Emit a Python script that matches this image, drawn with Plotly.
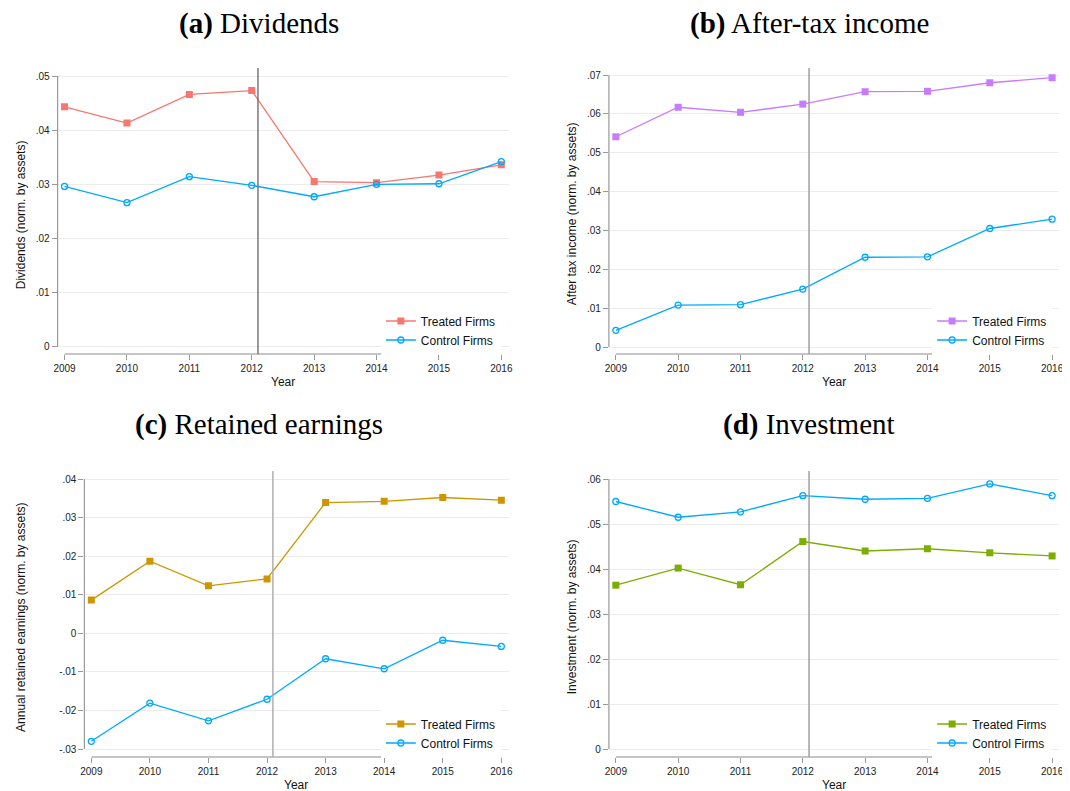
import plotly.graph_objects as go

# page has an 8px body margin; lay out in reference pixels and shift
OFF = 8
W, H = 1070 - OFF, 791 - OFF

years = [2009, 2010, 2011, 2012, 2013, 2014, 2015, 2016]
year_ticks = ["2009", "2010", "2011", "2012", "2013", "2014", "2015", "2016"]
event_year = 2012.1

div_treated = [0.0443, 0.0413, 0.0466, 0.0473, 0.0305, 0.0303, 0.0317, 0.0336]
div_control = [0.0296, 0.0266, 0.0314, 0.0298, 0.0277, 0.0300, 0.0301, 0.0342]

inc_treated = [0.0541, 0.0617, 0.0604, 0.0625, 0.0657, 0.0658, 0.0680, 0.0693]
inc_control = [0.0043, 0.0108, 0.0109, 0.0149, 0.0231, 0.0232, 0.0305, 0.0329]

ret_treated = [0.0086, 0.0187, 0.0123, 0.0141, 0.0339, 0.0342, 0.0352, 0.0345]
ret_control = [-0.0280, -0.0181, -0.0227, -0.0171, -0.0066, -0.0092, -0.0018, -0.0034]

inv_treated = [0.0364, 0.0402, 0.0365, 0.0461, 0.0440, 0.0445, 0.0436, 0.0429]
inv_control = [0.0550, 0.0515, 0.0527, 0.0563, 0.0555, 0.0557, 0.0589, 0.0563]

div_yticks = [0, 0.01, 0.02, 0.03, 0.04, 0.05]
div_ylabels = ["0", ".01", ".02", ".03", ".04", ".05"]
inc_yticks = [0, 0.01, 0.02, 0.03, 0.04, 0.05, 0.06, 0.07]
inc_ylabels = ["0", ".01", ".02", ".03", ".04", ".05", ".06", ".07"]
ret_yticks = [-0.03, -0.02, -0.01, 0, 0.01, 0.02, 0.03, 0.04]
ret_ylabels = ["-.03", "-.02", "-.01", "0", ".01", ".02", ".03", ".04"]
inv_yticks = [0, 0.01, 0.02, 0.03, 0.04, 0.05, 0.06]
inv_ylabels = ["0", ".01", ".02", ".03", ".04", ".05", ".06"]

panels = [
    dict(title="<b>(a)</b> Dividends", ytitle="Dividends (norm. by assets)",
         treated=div_treated, control=div_control, tcolor="#F8766D",
         yticks=div_yticks, ylabels=div_ylabels,
         px_x=(54, 509), px_y=(68, 354), xa=(61, 501.5), ya=(346.7, 76),
         title_xy=(257, 23), ytitle_x=17, legend_xy=(380, 330.5), vcol="#707070"),
    dict(title="<b>(b)</b> After-tax income", ytitle="After tax income (norm. by assets)",
         treated=inc_treated, control=inc_control, tcolor="#C77CFF",
         yticks=inc_yticks, ylabels=inc_ylabels,
         px_x=(610, 1064), px_y=(68, 354), xa=(617, 1057), ya=(347, 75),
         title_xy=(812, 23), ytitle_x=573, legend_xy=(936, 330.5), vcol="#999999"),
    dict(title="<b>(c)</b> Retained earnings", ytitle="Annual retained earnings (norm. by assets)",
         treated=ret_treated, control=ret_control, tcolor="#CD9600",
         yticks=ret_yticks, ylabels=ret_ylabels,
         px_x=(81, 509), px_y=(471, 757), xa=(88, 501.5), ya=(749, 479),
         title_xy=(257, 424), ytitle_x=17, legend_xy=(380, 733.5), vcol="#aaaaaa"),
    dict(title="<b>(d)</b> Investment", ytitle="Investment (norm. by assets)",
         treated=inv_treated, control=inv_control, tcolor="#7CAE00",
         yticks=inv_yticks, ylabels=inv_ylabels,
         px_x=(610, 1064), px_y=(471, 757), xa=(617, 1057), ya=(749, 479),
         title_xy=(812, 424), ytitle_x=573, legend_xy=(936, 733.5), vcol="#999999"),
]

CONTROL_COLOR = "#00A9FF"
TICK_FONT = dict(family="Liberation Sans, Arial", size=10, color="#222222")
LABEL_FONT = dict(family="Liberation Sans, Arial", size=12, color="#111111")


def px(xv):
    return (xv - OFF) / W


def py(yv):
    return 1 - (yv - OFF) / H


fig = go.Figure()
annotations = []
shapes = []

for i, p in enumerate(panels):
    n = "" if i == 0 else str(i + 1)
    xname, yname = "x" + n, "y" + n
    lname = "legend" + n
    x0px, x1px = p["px_x"]
    a0, a1 = p["xa"]
    ppx = (a1 - a0) / (years[-1] - years[0])
    xr = [years[0] - (a0 - x0px) / ppx, years[-1] + (x1px - a1) / ppx]
    ytop, ybot = p["px_y"]
    b0, b1 = p["ya"]
    ymin_t, ymax_t = p["yticks"][0], p["yticks"][-1]
    ppy = (b0 - b1) / (ymax_t - ymin_t)
    yr = [ymin_t - (ybot - b0) / ppy, ymax_t + (b1 - ytop) / ppy]

    fig.add_trace(go.Scatter(
        x=years, y=p["treated"], name="Treated Firms", mode="lines+markers",
        line=dict(color=p["tcolor"], width=1.3),
        marker=dict(symbol="square", size=7, color=p["tcolor"]),
        xaxis=xname, yaxis=yname, legend=lname))
    fig.add_trace(go.Scatter(
        x=years, y=p["control"], name="Control Firms", mode="lines+markers",
        line=dict(color=CONTROL_COLOR, width=1.3),
        marker=dict(symbol="circle-open", size=6, color=CONTROL_COLOR, line=dict(width=1.3)),
        xaxis=xname, yaxis=yname, legend=lname))

    fig.update_layout(**{
        "xaxis" + n: dict(domain=[px(x0px), px(x1px)], range=xr, anchor=yname,
                          tickvals=years, ticktext=year_ticks, showgrid=False,
                          zeroline=False, showline=False, ticks="outside", ticklen=5,
                          tickcolor="#999999", tickwidth=1, tickfont=TICK_FONT),
        "yaxis" + n: dict(domain=[py(ybot), py(ytop)], range=yr, anchor=xname,
                          tickvals=p["yticks"], ticktext=p["ylabels"], showgrid=True,
                          gridcolor="#ececec", gridwidth=1, zeroline=False, showline=False,
                          ticks="outside", ticklen=5, tickcolor="#999999", tickwidth=1,
                          tickfont=TICK_FONT),
        lname: dict(x=px(p["legend_xy"][0]), y=py(p["legend_xy"][1]),
                    xanchor="left", yanchor="middle", bgcolor="white",
                    font=dict(family="Liberation Sans, Arial", size=12, color="#111111"),
                    borderwidth=0),
    })

    shapes.append(dict(type="line", xref=xname + " domain", x0=0, x1=0, yref=yname,
                       y0=ymin_t, y1=ymax_t, line=dict(color="#999999", width=1.2)))
    shapes.append(dict(type="line", xref=xname, x0=years[0], x1=years[-1],
                       yref=yname + " domain", y0=0, y1=0,
                       line=dict(color="#8c8c8c", width=1.2)))
    shapes.append(dict(type="line", xref=xname, x0=event_year, x1=event_year,
                       yref=yname + " domain", y0=0, y1=1,
                       line=dict(color=p["vcol"], width=1.4)))

    annotations.append(dict(text=p["title"], xref="paper", yref="paper",
                            x=px(p["title_xy"][0]), y=py(p["title_xy"][1]),
                            xanchor="center", yanchor="middle", showarrow=False,
                            font=dict(family="Liberation Serif, serif", size=29, color="black")))
    annotations.append(dict(text=p["ytitle"], xref="paper", yref="paper",
                            x=px(p["ytitle_x"]), y=py((b0 + b1) / 2 + 3),
                            xanchor="center", yanchor="middle", textangle=-90,
                            showarrow=False, font=LABEL_FONT))
    annotations.append(dict(text="Year", xref="paper", yref="paper",
                            x=px((a0 + a1) / 2), y=py(ybot + 28),
                            xanchor="center", yanchor="middle", showarrow=False,
                            font=LABEL_FONT))

fig.update_layout(width=W, height=H, margin=dict(l=0, r=0, t=0, b=0),
                  paper_bgcolor="white", plot_bgcolor="white",
                  annotations=annotations, shapes=shapes, showlegend=True)

fig.write_html("out.html")
